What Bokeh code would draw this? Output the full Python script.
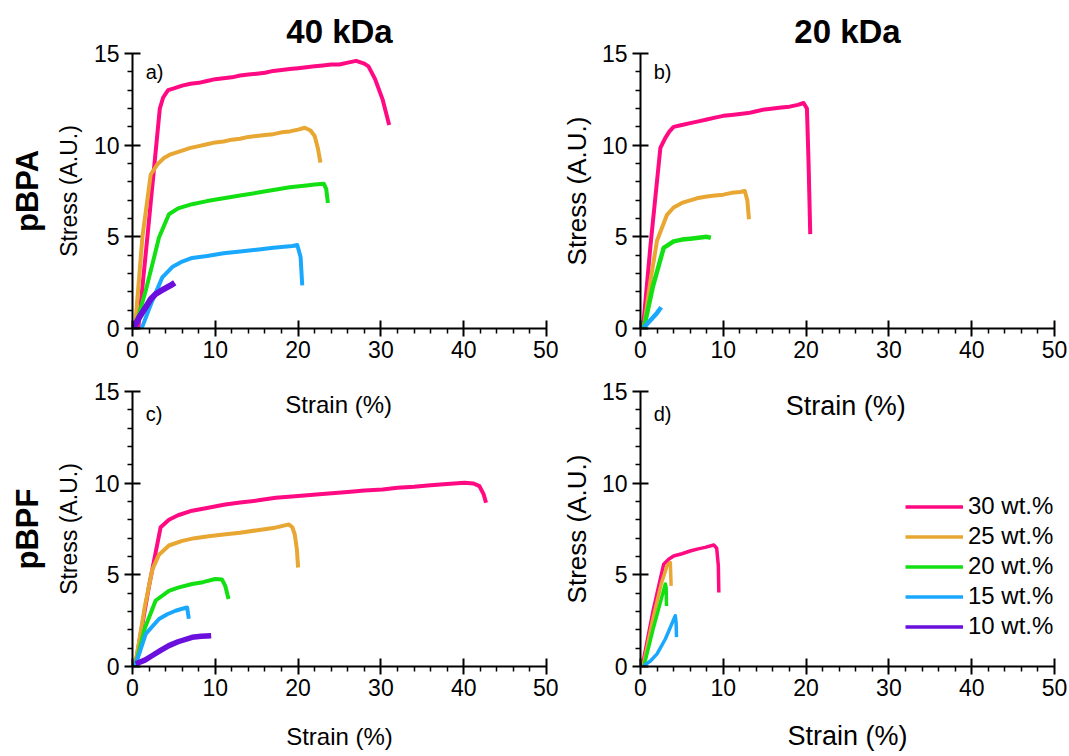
from bokeh.plotting import figure
from bokeh.models import Range1d, FixedTicker, Label, Legend, LegendItem, Title
from bokeh.layouts import column, row
from bokeh.embed import file_html
from bokeh.resources import INLINE

FONT = "Liberation Sans"

# ---------------- data ----------------
x_ticks = [0, 10, 20, 30, 40, 50]
x_minor = [2, 4, 6, 8, 12, 14, 16, 18, 22, 24, 26, 28, 32, 34, 36, 38, 42, 44, 46, 48]
y_ticks = [0, 5, 10, 15]
y_minor = [1, 2, 3, 4, 6, 7, 8, 9, 11, 12, 13, 14]

series_labels = ["30 wt.%", "25 wt.%", "20 wt.%", "15 wt.%", "10 wt.%"]
series_colors = ["#FF0A82", "#E8A632", "#13E013", "#1AA8FF", "#6A0FDC"]

# a) pBPA 40 kDa
a30_x = [0.7, 1.8, 3.3, 3.7, 4.3, 5, 6, 7, 8, 9, 10, 11, 12, 13, 14, 15, 16, 17, 18, 19, 20,
         21, 22, 23, 24, 25, 26, 27, 28, 28.5, 29.3, 30.2, 31.0]
a30_y = [0, 5.0, 12.0, 12.6, 13.0, 13.1, 13.25, 13.35, 13.4, 13.5, 13.6, 13.65, 13.7, 13.8, 13.85,
         13.9, 13.95, 14.05, 14.1, 14.15, 14.2, 14.25, 14.3, 14.35, 14.4, 14.4, 14.5, 14.6, 14.45,
         14.3, 13.6, 12.5, 11.1]
a25_x = [0.3, 1.2, 2.2, 3.0, 3.8, 4.6, 6, 7, 8, 9, 10, 11, 12, 13, 14, 15, 16, 17, 18, 19, 20,
         20.8, 21.5, 22.0, 22.4, 22.7]
a25_y = [0, 5.0, 8.4, 8.95, 9.3, 9.5, 9.7, 9.85, 9.95, 10.05, 10.15, 10.2, 10.3, 10.35, 10.45,
         10.5, 10.55, 10.6, 10.7, 10.75, 10.85, 10.95, 10.8, 10.5, 9.8, 9.05]
a20_x = [0.3, 1.6, 2.4, 3.2, 4.4, 5.5, 7.2, 9, 11, 13, 15, 17, 19, 21, 22, 23.1, 23.4, 23.6]
a20_y = [0, 2.07, 3.5, 4.96, 6.23, 6.55, 6.78, 6.95, 7.1, 7.25, 7.4, 7.55, 7.7, 7.8, 7.85, 7.9,
         7.6, 6.85]
a15_x = [1.1, 2.4, 3.6, 4.8, 6, 7.2, 9, 11, 13, 15, 17, 19.3, 19.9, 20.3, 20.5]
a15_y = [0, 1.52, 2.79, 3.35, 3.65, 3.85, 3.95, 4.1, 4.2, 4.3, 4.4, 4.5, 4.55, 3.9, 2.35]
a10_x = [0.15, 0.8, 1.6, 2.2, 2.8, 3.4, 4.0, 4.6, 5.1]
a10_y = [0.05, 0.6, 1.16, 1.6, 1.88, 2.05, 2.2, 2.35, 2.5]

# b) pBPA 20 kDa
b30_x = [0.3, 1.2, 2.4, 3.0, 3.5, 4.0, 5, 6, 7, 8, 9, 10, 11, 12, 13, 14, 15, 16, 17, 18, 19,
         19.7, 20.1, 20.3, 20.5]
b30_y = [0, 4.5, 9.85, 10.4, 10.75, 11.0, 11.1, 11.2, 11.3, 11.4, 11.5, 11.6, 11.65, 11.7, 11.75,
         11.85, 11.95, 12.0, 12.05, 12.1, 12.2, 12.3, 12.0, 9.0, 5.15]
b25_x = [0.4, 1.2, 2.0, 3.2, 4.0, 5, 6.8, 8, 9, 10, 11, 12, 12.6, 12.9, 13.1]
b25_y = [0, 2.6, 4.8, 6.2, 6.6, 6.85, 7.1, 7.2, 7.25, 7.3, 7.4, 7.45, 7.5, 7.0, 5.96]
b20_x = [0.4, 1.5, 2.8, 4.0, 5, 6, 7, 8, 8.5]
b20_y = [0, 2.3, 4.4, 4.75, 4.85, 4.9, 4.95, 5.0, 4.95]
b15_x = [0.4, 1.2, 2.0, 2.5]
b15_y = [0.05, 0.45, 0.85, 1.16]

# c) pBPF 40 kDa
c30_x = [0.3, 2.0, 3.4, 4.4, 5.5, 7.2, 9, 11.2, 13, 15, 17.3, 20, 23.3, 26, 28, 30.2, 32, 34, 36,
         38, 40.1, 41.2, 41.9, 42.4, 42.7]
c30_y = [0, 4.4, 7.6, 8.0, 8.25, 8.5, 8.65, 8.84, 8.95, 9.05, 9.2, 9.3, 9.42, 9.52, 9.6, 9.66,
         9.75, 9.8, 9.88, 9.95, 10.02, 9.98, 9.84, 9.4, 8.93]
c25_x = [0.3, 1.5, 2.4, 3.2, 4.4, 6, 7.5, 9.2, 11, 13, 15.3, 17, 18.9, 19.3, 19.6, 19.85, 20.0]
c25_y = [0, 3.3, 5.3, 6.1, 6.6, 6.85, 7.0, 7.1, 7.2, 7.3, 7.45, 7.55, 7.75, 7.6, 7.2, 6.4, 5.4]
c20_x = [0.3, 1.5, 2.8, 4.4, 5.5, 7.2, 8.5, 10, 10.8, 11.2, 11.6]
c20_y = [0, 2.1, 3.6, 4.13, 4.3, 4.5, 4.6, 4.77, 4.75, 4.4, 3.68]
c15_x = [0.3, 1.6, 3.2, 4.2, 5.2, 6.0, 6.6, 6.8]
c15_y = [0, 1.78, 2.59, 2.85, 3.04, 3.15, 3.22, 2.6]
c10_x = [0.4, 1.5, 2.4, 3.4, 4.4, 5.5, 7.2, 8.3, 9.5]
c10_y = [0.15, 0.35, 0.6, 0.88, 1.14, 1.35, 1.59, 1.65, 1.68]

# d) pBPF 20 kDa
d30_x = [0.2, 1.5, 2.8, 3.4, 4.0, 5, 6, 6.85, 7.8, 8.85, 9.2, 9.4, 9.46]
d30_y = [0, 3.0, 5.58, 5.85, 6.03, 6.15, 6.3, 6.4, 6.5, 6.63, 6.45, 5.5, 4.04]
d25_x = [0.3, 1.5, 2.5, 3.2, 3.6, 3.7]
d25_y = [0, 2.6, 4.5, 5.49, 5.67, 4.4]
d20_x = [0.4, 1.5, 2.4, 3.0, 3.1, 3.14]
d20_y = [0, 2.0, 3.5, 4.5, 4.3, 3.3]
d15_x = [0.4, 1.2, 2.0, 3.0, 4.2, 4.3, 4.35]
d15_y = [0.05, 0.3, 0.69, 1.5, 2.77, 2.4, 1.6]
# 10 wt.% has no curve in panel d (legend entry only)
d10_x = [float("nan")]
d10_y = [float("nan")]


def style_axes(p, xlabel, ylabel, xlab_size, ylab_size, xlab_standoff, ylab_standoff):
    p.xgrid.visible = False
    p.ygrid.visible = False
    p.outline_line_color = None
    p.xaxis.ticker = FixedTicker(ticks=x_ticks, minor_ticks=x_minor)
    p.yaxis.ticker = FixedTicker(ticks=y_ticks, minor_ticks=y_minor)
    for ax in (p.xaxis[0], p.yaxis[0]):
        ax.axis_line_width = 2
        ax.axis_line_color = "black"
        ax.major_tick_line_width = 2
        ax.major_tick_line_color = "black"
        ax.minor_tick_line_width = 1.5
        ax.minor_tick_line_color = "black"
        ax.major_tick_in = 8
        ax.major_tick_out = 8
        ax.minor_tick_in = 0
        ax.minor_tick_out = 5
        ax.major_label_text_font = FONT
        ax.major_label_text_font_size = "23px"
        ax.major_label_text_color = "black"
        ax.axis_label_text_font = FONT
        ax.axis_label_text_font_style = "normal"
        ax.axis_label_text_color = "black"
    p.xaxis.major_label_standoff = 4
    p.yaxis.major_label_standoff = 5
    p.xaxis.axis_label = xlabel
    p.yaxis.axis_label = ylabel
    p.xaxis.axis_label_text_font_size = xlab_size
    p.yaxis.axis_label_text_font_size = ylab_size
    p.xaxis.axis_label_standoff = xlab_standoff
    p.yaxis.axis_label_standoff = ylab_standoff


def make_fig(fw, mbl, mbr, mbt, mbb):
    p = figure(frame_width=fw, frame_height=275,
               min_border_left=mbl, min_border_right=mbr,
               min_border_top=mbt, min_border_bottom=mbb,
               x_range=Range1d(0, 50), y_range=Range1d(0, 15),
               output_backend="svg", toolbar_location=None,
               background_fill_color="white", border_fill_color="white")
    return p


def add_curves(p, xs, ys, widths):
    rs = []
    for x, y, c, w in zip(xs, ys, series_colors, widths):
        rs.append(p.line(x, y, line_color=c, line_width=w, line_join="round"))
    return rs


def panel_letter(p, txt, y):
    p.add_layout(Label(x=1.6, y=y, text=txt, text_font=FONT, text_font_size="20px",
                       text_align="left", text_baseline="middle", text_color="black"))


def top_title(p, txt):
    p.title.text = txt
    p.title.align = "center"
    p.title.text_font = FONT
    p.title.text_font_size = "33px"
    p.title.text_font_style = "bold"
    p.title.text_color = "black"
    p.title.standoff = 7


def left_title(p, txt):
    p.add_layout(Title(text=txt, align="center", text_font=FONT, text_font_size="31px",
                       text_font_style="bold", text_color="black", standoff=15), "left")


# panel a
pa = make_fig(414, 132, 12, 53, 48)
style_axes(pa, "", "Stress (A.U.)", "24px", "23px", 2, 9)
add_curves(pa, [a30_x, a25_x, a20_x, a15_x, a10_x], [a30_y, a25_y, a20_y, a15_y, a10_y],
           [4, 4, 4, 4, 6])
panel_letter(pa, "a)", 14.0)
top_title(pa, "40 kDa")
left_title(pa, "pBPA")

# panel b
pb = make_fig(414, 82, 13, 53, 48)
style_axes(pb, "", "Stress (A.U.)", "27px", "26px", 2, 7)
add_curves(pb, [b30_x, b25_x, b20_x, b15_x], [b30_y, b25_y, b20_y, b15_y], [4, 4, 4.5, 4.5])
panel_letter(pb, "b)", 14.0)
top_title(pb, "20 kDa")

# panel c
pc = make_fig(414, 132, 12, 15, 88)
style_axes(pc, "Strain (%)", "Stress (A.U.)", "24px", "23px", 24, 9)
add_curves(pc, [c30_x, c25_x, c20_x, c15_x, c10_x], [c30_y, c25_y, c20_y, c15_y, c10_y],
           [4, 4, 4, 4, 5.5])
panel_letter(pc, "c)", 13.8)
left_title(pc, "pBPF")
pc.add_layout(Label(x=24.9, y=14.3, text="Strain (%)", text_font=FONT, text_font_size="24px",
                    text_align="center", text_baseline="middle", text_color="black"))

# panel d
pd_ = make_fig(414, 82, 13, 15, 88)
style_axes(pd_, "Strain (%)", "Stress (A.U.)", "27px", "26px", 22, 7)
rd = add_curves(pd_, [d30_x, d25_x, d20_x, d15_x, d10_x], [d30_y, d25_y, d20_y, d15_y, d10_y],
                [3.5, 3.5, 3.5, 3.5, 3.5])
panel_letter(pd_, "d)", 13.75)
pd_.add_layout(Label(x=24.8, y=14.2, text="Strain (%)", text_font=FONT, text_font_size="27px",
                     text_align="center", text_baseline="middle", text_color="black"))

legend = Legend(items=[LegendItem(label=l, renderers=[r]) for l, r in zip(series_labels, rd)],
                location=(265, 26), padding=0, margin=0, spacing=2,
                glyph_width=58, glyph_height=27, label_height=27, label_standoff=5,
                label_text_font=FONT, label_text_font_size="24px", label_text_color="black",
                border_line_color=None, background_fill_alpha=0)
pd_.add_layout(legend)

layout = column(row(pa, pb), row(pc, pd_))

open("out.html", "w").write(file_html(layout, INLINE))
